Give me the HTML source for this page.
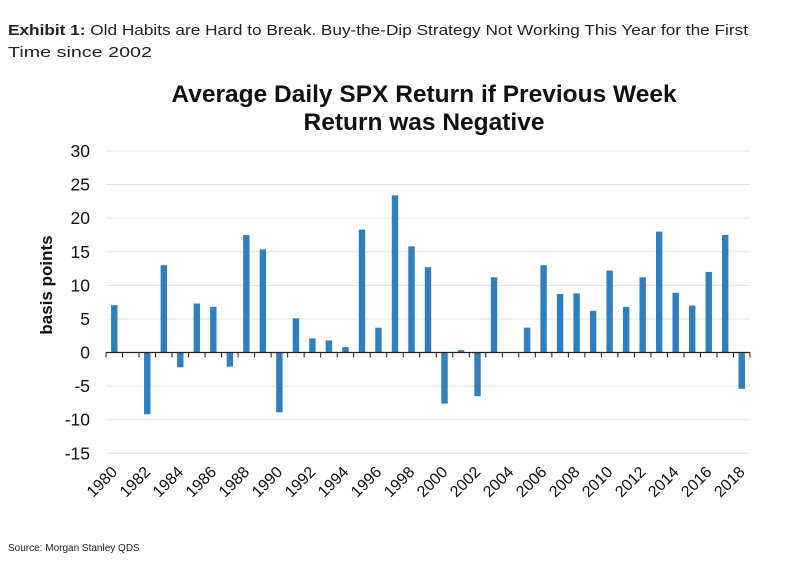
<!DOCTYPE html>
<html><head><meta charset="utf-8"><style>
body{margin:0;background:#fff;width:800px;height:577px;overflow:hidden;font-family:"Liberation Sans",sans-serif;}
</style></head><body>
<svg width="800" height="577" xmlns="http://www.w3.org/2000/svg">
<text x="8" y="35" font-size="15" fill="#222" textLength="740" lengthAdjust="spacingAndGlyphs"><tspan font-weight="bold">Exhibit 1:</tspan> Old Habits are Hard to Break. Buy-the-Dip Strategy Not Working This Year for the First</text>
<text x="8" y="57" font-size="15" fill="#222" textLength="144" lengthAdjust="spacingAndGlyphs">Time since 2002</text>
<text x="424" y="102" font-size="24.5" font-weight="bold" text-anchor="middle" fill="#111">Average Daily SPX Return if Previous Week</text>
<text x="424" y="130" font-size="24.5" font-weight="bold" text-anchor="middle" fill="#111">Return was Negative</text>
<text transform="translate(52,285) rotate(-90)" font-size="17" font-weight="bold" text-anchor="middle" fill="#111">basis points</text>
<g id="grid"></g><g id="bars"></g><g id="axis"></g>
<text x="8" y="551" font-size="10" fill="#222">Source: Morgan Stanley QDS</text>
</svg>
<script>
const years=[1980,1981,1982,1983,1984,1985,1986,1987,1988,1989,1990,1991,1992,1993,1994,1995,1996,1997,1998,1999,2000,2001,2002,2003,2004,2005,2006,2007,2008,2009,2010,2011,2012,2013,2014,2015,2016,2017,2018];
const values=[7.05,0,-9.2,13.0,-2.2,7.3,6.8,-2.1,17.5,15.35,-8.9,5.1,2.1,1.8,0.8,18.3,3.7,23.4,15.8,12.7,-7.6,0.35,-6.5,11.2,0,3.7,13.0,8.7,8.8,6.2,12.2,6.8,11.2,18.0,8.9,7.0,12.0,17.5,-5.4];
const yTicks=[30,25,20,15,10,5,0,-5,-10,-15];
const NS="http://www.w3.org/2000/svg";
const x0=106,x1=750,yTop=151,yBot=453.3;
const y=v=>yTop+(30-v)*(yBot-yTop)/45;
const bw=(x1-x0)/years.length;
const xc=i=>x0+bw*(i+0.5);
function mk(t,a,p){const e=document.createElementNS(NS,t);for(const k in a)e.setAttribute(k,a[k]);p.appendChild(e);return e;}
const grid=document.getElementById('grid'),bars=document.getElementById('bars'),axis=document.getElementById('axis');
yTicks.forEach(v=>{
 if(v!==0){const l=mk('line',{x1:x0,x2:x1,y1:y(v),y2:y(v),stroke:'#e0e0e0','stroke-width':1},grid);
 
 }
 const t=mk('text',{x:90,y:y(v)+6,'font-size':17.5,'text-anchor':'end',fill:'#111'},grid);
 t.textContent=v;
 
 
});
values.forEach((v,i)=>{
 const r=mk('rect',{x:xc(i)-3.2,width:6.4,y:Math.min(y(v),y(0)),height:Math.abs(y(v)-y(0)),fill:'#2e7fc0'},bars);
 
 
});
const zl=mk('line',{x1:x0,x2:x1,y1:y(0),y2:y(0),stroke:'#222','stroke-width':1.3},axis);


for(let i=0;i<=years.length;i++){
 const tk=mk('line',{x1:x0+bw*i,x2:x0+bw*i,y1:y(0),y2:y(0)+5,stroke:'#222','stroke-width':1},axis);
 
 
}
years.forEach((yr,i)=>{
 if(i%2)return;
 const cx=xc(i)+4,cy=473;
 const t=mk('text',{x:cx,y:cy,'font-size':16,'text-anchor':'end',fill:'#111',transform:`rotate(-45 ${cx} ${cy})`},axis);
 t.textContent=yr;
 
 
});
</script>
</body></html>
